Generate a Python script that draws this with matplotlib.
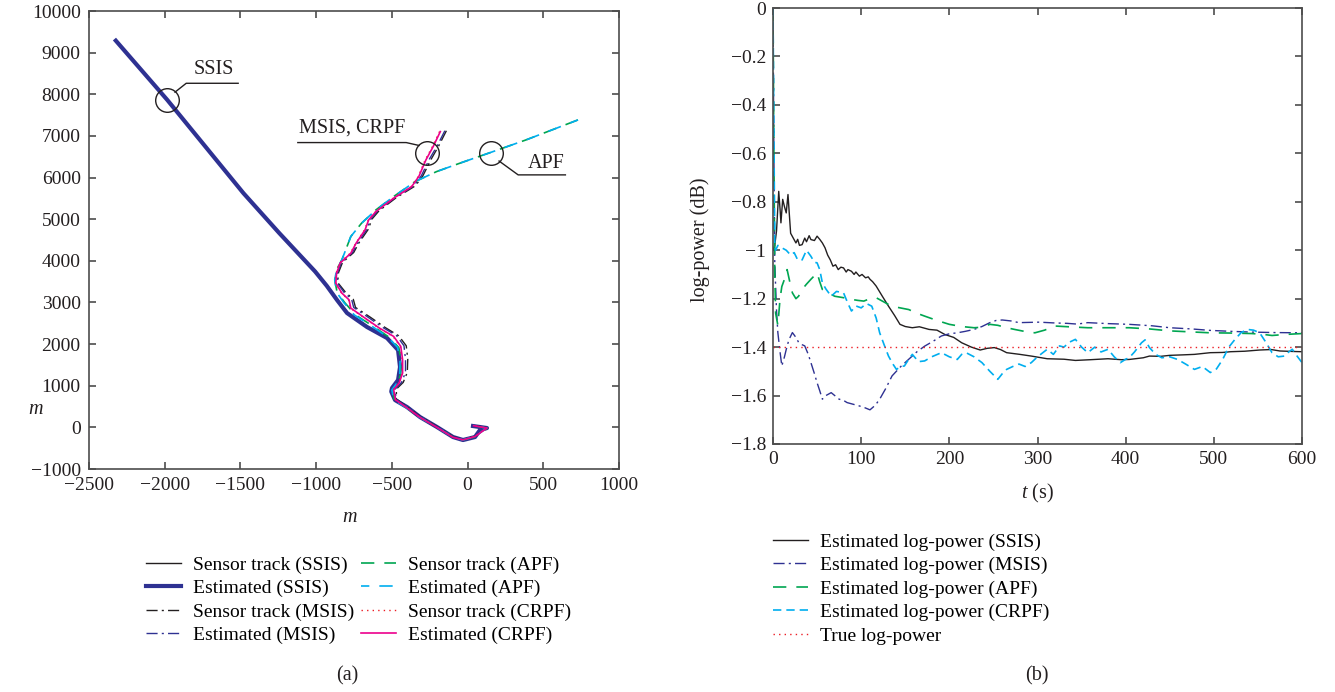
import numpy as np
import matplotlib
matplotlib.use("Agg")
import matplotlib.pyplot as plt
from matplotlib.ticker import FuncFormatter

plt.rcParams['font.family'] = ['Liberation Serif', 'DejaVu Serif']
plt.rcParams['axes.unicode_minus'] = True
plt.rcParams['mathtext.fontset'] = 'custom'
plt.rcParams['mathtext.it'] = 'Liberation Serif:italic'
plt.rcParams['mathtext.rm'] = 'Liberation Serif'

# colours used in the original figure
NAVY = "#2e3192"
BLACK = "#231f20"
GREEN = "#00a651"
CYAN = "#00aeef"
RED = "#ed1c24"
MAGENTA = "#ec008c"

# ---------------- (a) sensor tracks ----------------
ssis_est_x = [-2323, -1983, -1480, -1243, -1007, -930, -862, -796, -664, -532, -459, -446,
              -459, -499, -504, -479, -400, -314, -202, -96, -30, 49, 82, 128, 36]
ssis_est_y = [9288, 7864, 5624, 4664, 3744, 3400, 3058, 2746, 2410, 2146, 1857, 1449,
              1137, 944, 860, 656, 488, 248, 8, -232, -304, -232, -64, -16, 32]
ssis_sen_x = [-2320, -1980, -1478, -1240, -1004, -926, -858, -790, -658, -526, -452, -440,
              -452, -492, -498, -472, -394, -308, -196, -90, -24, 52, 86, 122, 40]
ssis_sen_y = [9290, 7866, 5628, 4668, 3748, 3404, 3062, 2752, 2418, 2154, 1865, 1457,
              1145, 950, 868, 662, 494, 254, 14, -226, -298, -226, -58, -10, 38]

crpf_est_x = [-180, -227, -275, -322, -369, -488, -605, -653, -677, -736, -771, -842, -865,
              -870, -830, -783, -771, -677, -582, -488, -441, -429, -429, -452, -488, -476,
              -400, -314, -202, -96, -30, 49, 128, 40]
crpf_est_y = [7104, 6744, 6424, 6024, 5784, 5504, 5184, 4984, 4744, 4424, 4184, 3944, 3704,
              3464, 3224, 3064, 2864, 2624, 2384, 2184, 1944, 1624, 1304, 1064, 904, 664,
              470, 240, 0, -240, -300, -220, -16, 40]
crpf_sen_x = [-185, -232, -280, -326, -372, -490, -606, -655, -680, -738, -774, -846, -868,
              -872, -832, -786, -774, -680, -586, -492, -445, -432, -432, -455, -490, -478,
              -402, -316, -204, -98, -32, 47, 126, 38]
crpf_sen_y = crpf_est_y

msis_sen_x = [-140, -190, -240, -295, -345, -470, -585, -632, -655, -716, -752, -826, -852,
              -858, -805, -755, -740, -640, -545, -455, -405, -395, -398, -425, -470, -470,
              -395, -310, -198, -92, -26, 52, 130, 44]
msis_sen_y = [7124, 6764, 6444, 6044, 5800, 5520, 5200, 5000, 4760, 4440, 4200, 3960, 3720,
              3480, 3240, 3080, 2880, 2640, 2400, 2200, 1960, 1640, 1320, 1080, 920, 680,
              484, 254, 14, -226, -290, -210, -10, 46]
msis_est_x = [-150, -200, -252, -305, -355, -478, -594, -640, -664, -724, -760, -833, -858,
              -863, -815, -766, -752, -655, -560, -468, -420, -410, -410, -436, -478, -472,
              -398, -312, -200, -94, -28, 50, 128, 42]
msis_est_y = msis_sen_y

apf_sen_x = [729, 386, 150, -39, -204, -346, -488, -605, -700, -771, -830, -865, -877,
             -862, -812, -740, -620, -520, -455, -440, -442, -466, -496, -484,
             -404, -316, -202, -96, -30, 49, 128, 38]
apf_sen_y = [7384, 6904, 6600, 6360, 6144, 5904, 5544, 5224, 4904, 4584, 4024, 3784, 3544,
             3250, 3000, 2700, 2420, 2170, 1920, 1600, 1280, 1040, 900, 660,
             476, 244, 4, -236, -302, -226, -16, 36]
apf_est_x = [729, 386, 150, -39, -204, -346, -488, -605, -700, -771, -830, -865, -877,
             -866, -818, -748, -628, -528, -462, -446, -448, -472, -500, -488,
             -406, -318, -204, -98, -32, 47, 126, 36]
apf_est_y = apf_sen_y

# ---------------- (b) log-power ----------------
ssis_t = [0, 2, 4, 6.5, 8, 9, 11, 13, 15, 17, 20, 23, 26, 28, 30, 33, 36, 38, 41, 43, 47, 50,
          53, 56, 59, 62, 65, 68, 71, 74, 77, 80, 83, 85, 89, 92, 94, 98, 101, 105, 108, 110,
          113, 117, 124, 131, 138, 144, 150, 158, 166, 177,
          186, 195, 205, 214, 225, 235, 243, 251, 258, 265, 280, 293, 311, 330, 343, 360,
          380, 395, 404, 420, 427, 440, 450, 465, 478, 496, 510, 519, 535, 552, 565, 575,
          590, 600]
ssis_p = [-1.0, -0.98, -0.92, -0.757, -0.83, -0.887, -0.79, -0.82, -0.846, -0.77, -0.93, -0.95,
          -0.97, -0.955, -0.98, -0.977, -0.95, -0.965, -0.94, -0.956, -0.96, -0.942,
          -0.955, -0.97, -0.99, -1.02, -1.04, -1.066, -1.06, -1.08, -1.07, -1.073, -1.09,
          -1.08, -1.087, -1.10, -1.09, -1.107, -1.10, -1.114, -1.11, -1.12, -1.13, -1.148,
          -1.19, -1.231, -1.27, -1.306, -1.315, -1.32, -1.316, -1.327, -1.33, -1.348, -1.36,
          -1.382, -1.40, -1.412, -1.405, -1.402, -1.41, -1.423, -1.43, -1.437, -1.448, -1.45,
          -1.455, -1.452, -1.448, -1.452, -1.451, -1.444, -1.437, -1.438, -1.434, -1.432,
          -1.43, -1.423, -1.422, -1.419, -1.417, -1.412, -1.41, -1.416, -1.418, -1.419]

msis_t = [0, 1, 2, 4, 5.5, 8, 10, 13, 15, 18, 22, 26, 29, 33, 36, 40, 43, 47, 50, 53, 56, 60,
          66, 70, 75, 80, 84, 90, 98, 104, 110, 116, 121, 128, 135, 145, 154, 163, 172, 182,
          191, 200, 209, 218, 228, 237, 246, 253, 260, 270, 279, 290, 302, 318, 334, 345, 357,
          380, 404, 430, 450, 475, 496, 520, 543, 570, 600]
msis_p = [0.0, -0.6, -1.05, -1.25, -1.34, -1.42, -1.478, -1.44, -1.41, -1.37, -1.34, -1.36,
          -1.38, -1.39, -1.395, -1.43, -1.464, -1.51, -1.547, -1.58, -1.615, -1.60, -1.588,
          -1.60, -1.615, -1.62, -1.629, -1.635, -1.643, -1.65, -1.659, -1.64, -1.615, -1.57,
          -1.519, -1.48, -1.45, -1.42, -1.396, -1.375, -1.354, -1.345, -1.341, -1.335, -1.327,
          -1.315, -1.299, -1.29, -1.288, -1.292, -1.299, -1.298, -1.297, -1.30, -1.302, -1.305,
          -1.299, -1.303, -1.306, -1.312, -1.32, -1.325, -1.331, -1.335, -1.338, -1.34, -1.341]

apf_t = [0, 1, 2, 3, 5.5, 8, 10, 13, 16, 19, 22, 26, 29, 33, 38, 43, 47, 50, 53, 56, 62, 70,
         80, 89, 96, 103, 110, 117, 124, 131, 140, 154, 163, 172, 186, 200, 214, 228, 237,
         246, 255, 265, 274, 285, 297, 308, 320, 335, 357, 380, 404, 427, 450, 473, 496, 520,
         543, 555, 566, 580, 600]
apf_p = [0.0, -0.6, -1.09, -1.26, -1.31, -1.2, -1.15, -1.12, -1.08, -1.13, -1.176, -1.2,
         -1.19, -1.162, -1.14, -1.12, -1.105, -1.093, -1.13, -1.162, -1.175, -1.19,
         -1.196, -1.203, -1.207, -1.21, -1.2, -1.196, -1.21, -1.224, -1.235, -1.245, -1.26,
         -1.272, -1.29, -1.306, -1.315, -1.32, -1.318, -1.306, -1.31, -1.32, -1.327, -1.335,
         -1.341, -1.33, -1.313, -1.316, -1.32, -1.32, -1.32, -1.325, -1.333, -1.337, -1.341,
         -1.342, -1.344, -1.347, -1.352, -1.348, -1.344]

crpf_t = [0, 1, 2, 3, 5.5, 10, 15, 20, 24, 28, 33, 38, 43, 47, 50, 53, 56, 60, 66, 72, 80,
          85, 89, 94, 100, 106, 112, 117, 121, 126, 131, 136, 140, 145, 149, 154, 158, 165,
          172, 180, 191, 200, 209, 214, 219, 228, 237, 246, 255, 260, 265, 272, 279, 286,
          293, 300, 311, 318, 325, 330, 336, 343, 350, 357, 365, 372, 380, 387, 394, 400,
          404, 410, 418, 422, 427, 434, 441, 450, 459, 468, 478, 487, 496, 503, 510, 517,
          524, 531, 538, 545, 552, 559, 566, 573, 580, 585, 589, 595, 600]
crpf_p = [0.0, -0.5, -0.98, -1.0, -0.98, -0.99, -1.0, -1.02, -1.01, -1.04, -1.04, -1.00,
          -1.025, -1.05, -1.052, -1.08, -1.135, -1.16, -1.19, -1.17, -1.176, -1.22, -1.251,
          -1.23, -1.238, -1.22, -1.231, -1.28, -1.341, -1.39, -1.437, -1.47, -1.492, -1.48,
          -1.478, -1.45, -1.43, -1.46, -1.457, -1.44, -1.423, -1.44, -1.451, -1.43, -1.423,
          -1.44, -1.464, -1.50, -1.533, -1.51, -1.492, -1.48, -1.47, -1.48, -1.464, -1.44,
          -1.409, -1.43, -1.395, -1.40, -1.38, -1.368, -1.40, -1.423, -1.40, -1.42, -1.409,
          -1.44, -1.464, -1.45, -1.444, -1.42, -1.382, -1.37, -1.402, -1.43, -1.444, -1.44,
          -1.451, -1.47, -1.492, -1.48, -1.505, -1.49, -1.451, -1.40, -1.368, -1.34, -1.327,
          -1.33, -1.341, -1.38, -1.423, -1.44, -1.437, -1.42, -1.409, -1.44, -1.464]

true_t = [0, 600]
true_p = [-1.4, -1.4]

FS_TICK = 14
FS_TEXT = 14.5
FS_LEG = 14

fig = plt.figure(figsize=(13.35, 6.92), dpi=100)
W, H = 1335, 692


def px_axes(l, t, r, b):
    return fig.add_axes([l / W, 1 - b / H, (r - l) / W, (b - t) / H])


def style(ax, pad):
    for s in ax.spines.values():
        s.set_color("#4d4d4d")
        s.set_linewidth(1.2)
    ax.tick_params(direction="in", length=5, width=1.2, color="#4d4d4d",
                   top=True, right=True, labelsize=FS_TICK, pad=pad, labelcolor=BLACK)


def fmt_dec(v, pos):
    s = f"{v:.1f}"
    if s in ("-0.0", "0.0"):
        return "0"
    if s.endswith(".0"):
        s = s[:-2]
    return s.replace("-", "\u2212")


ax1 = px_axes(89, 11, 619, 469)
ax1.plot(ssis_sen_x, ssis_sen_y, color=BLACK, lw=1.0, label="Sensor track (SSIS)")
ax1.plot(ssis_est_x, ssis_est_y, color=NAVY, lw=3.0, label="Estimated (SSIS)")
ax1.plot(msis_sen_x, msis_sen_y, color=BLACK, lw=1.0, ls=(0, (8, 3, 1.5, 3)), label="Sensor track (MSIS)")
ax1.plot(msis_est_x, msis_est_y, color=NAVY, lw=1.0, ls=(0, (8, 3, 1.5, 3)), label="Estimated (MSIS)")
ax1.plot(apf_sen_x, apf_sen_y, color=GREEN, lw=1.2, ls=(0, (8, 6)), label="Sensor track (APF)")
ax1.plot(apf_est_x, apf_est_y, color=CYAN, lw=1.2, ls=(3, (8, 6)), label="Estimated (APF)")
ax1.plot(crpf_sen_x, crpf_sen_y, color=RED, lw=1.0, ls=(0, (1, 3)), label="Sensor track (CRPF)")
ax1.plot(crpf_est_x, crpf_est_y, color=MAGENTA, lw=1.2, label="Estimated (CRPF)")

# annotation circles with leader lines
ax1.plot([-1983], [7864], "o", ms=17, mfc="none", mec=BLACK, mew=1.0)
ax1.plot([-1932, -1858, -1515], [8051, 8264, 8264], color=BLACK, lw=1.0)
ax1.text(-1675, 8584, "SSIS", ha="center", va="center", fontsize=FS_TEXT, color=BLACK)

ax1.plot([-270], [6584], "o", ms=17, mfc="none", mec=BLACK, mew=1.0)
ax1.plot([-1121, -405, -321], [6840, 6840, 6771], color=BLACK, lw=1.0)
ax1.text(-765, 7184, "MSIS, CRPF", ha="center", va="center", fontsize=FS_TEXT, color=BLACK)

ax1.plot([157], [6584], "o", ms=17, mfc="none", mec=BLACK, mew=1.0)
ax1.plot([208, 334, 646], [6397, 6064, 6064], color=BLACK, lw=1.0)
ax1.text(516, 6344, "APF", ha="center", va="center", fontsize=FS_TEXT, color=BLACK)

ax1.set_xlim(-2500, 1000)
ax1.set_ylim(-1000, 10000)
ax1.set_xticks(np.arange(-2500, 1001, 500))
ax1.set_yticks(np.arange(-1000, 10001, 1000))
style(ax1, 6)

leg_kw = dict(frameon=False, fontsize=FS_LEG, handlelength=1.8, handletextpad=0.6,
              labelspacing=0.30, borderpad=0, borderaxespad=0, loc="upper left")
h1, l1 = ax1.get_legend_handles_labels()
fig.legend(h1[:4], l1[:4], bbox_to_anchor=(146 / W, 1 - 556 / H), **leg_kw)
fig.legend(h1[4:], l1[4:], bbox_to_anchor=(361 / W, 1 - 556 / H), **leg_kw)

fig.text(36 / W, 1 - 410 / H, "m", fontsize=FS_TEXT, style="italic", ha="center", va="center", color=BLACK)
fig.text(350 / W, 1 - 518 / H, "m", fontsize=FS_TEXT, style="italic", ha="center", va="center", color=BLACK)
fig.text(347 / W, 1 - 676 / H, "(a)", fontsize=FS_TEXT, ha="center", va="center", color=BLACK)

ax2 = px_axes(773, 8, 1302, 444)
ax2.plot(ssis_t, ssis_p, color=BLACK, lw=1.0, label="Estimated log-power (SSIS)")
ax2.plot(msis_t, msis_p, color=NAVY, lw=1.0, ls=(0, (8, 3, 1.5, 3)), label="Estimated log-power (MSIS)")
ax2.plot(apf_t, apf_p, color=GREEN, lw=1.2, ls=(0, (8, 6)), label="Estimated log-power (APF)")
ax2.plot(crpf_t, crpf_p, color=CYAN, lw=1.2, ls=(0, (5, 3)), label="Estimated log-power (CRPF)")
ax2.plot(true_t, true_p, color=RED, lw=1.0, ls=(0, (1, 3)), label="True log-power")
ax2.set_xlim(0, 600)
ax2.set_ylim(-1.8, 0)
ax2.set_xticks(np.arange(0, 601, 100))
ax2.set_yticks(np.arange(-1.8, 0.01, 0.2))
ax2.yaxis.set_major_formatter(FuncFormatter(fmt_dec))
style(ax2, 5)

h2, l2 = ax2.get_legend_handles_labels()
fig.legend(h2, l2, bbox_to_anchor=(773 / W, 1 - 533 / H), **leg_kw)

fig.text(700 / W, 1 - 240 / H, "log-power (dB)", fontsize=FS_TEXT, rotation=90,
         ha="center", va="center", color=BLACK)
fig.text(1037 / W, 1 - 493 / H, r"$t$ (s)", fontsize=FS_TEXT, ha="center", va="center", color=BLACK)
fig.text(1037 / W, 1 - 676 / H, "(b)", fontsize=FS_TEXT, ha="center", va="center", color=BLACK)

fig.savefig("out.png", dpi=100)
